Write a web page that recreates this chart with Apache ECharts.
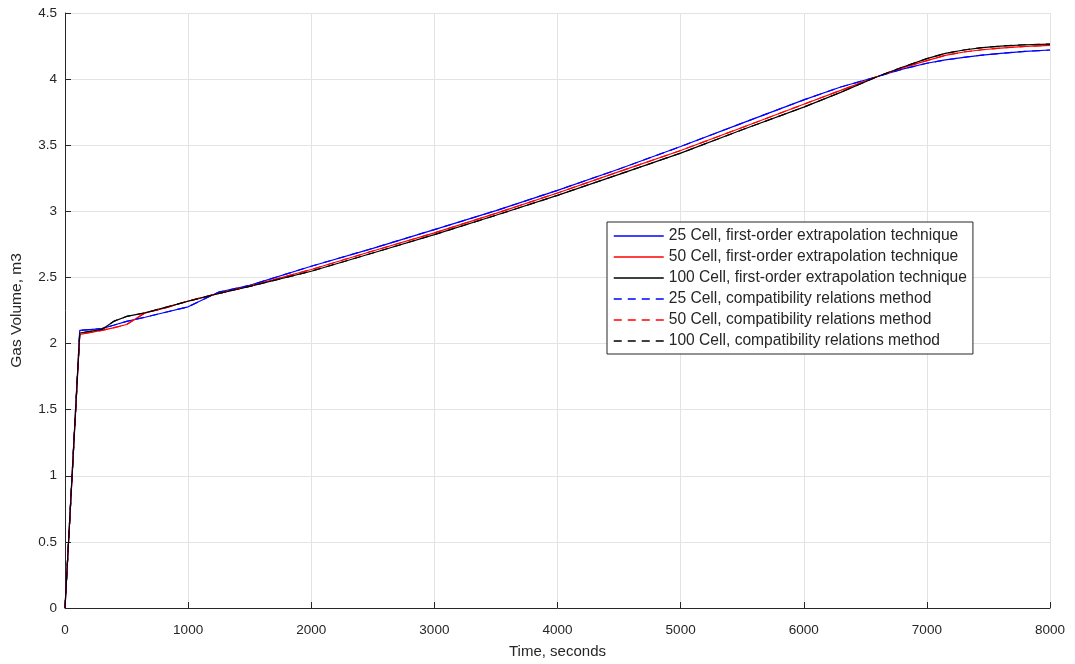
<!DOCTYPE html>
<html>
<head>
<meta charset="utf-8">
<script src="https://cdn.jsdelivr.net/npm/echarts@6/dist/echarts.min.js"></script>
<style>html,body{margin:0;padding:0;background:#fff}#c{width:1075px;height:664px}</style>
</head>
<body>
<div id="c"></div>
<script>
const time = [0,120,300,400,500,650,800,1000,1250,1500,2000,2500,3000,3500,4000,4500,5000,5500,6000,6300,6600,6800,7000,7150,7300,7450,7600,7800,8000];
const cell25First = [0,2.10,2.113,2.14,2.168,2.199,2.233,2.278,2.39,2.44,2.585,2.72,2.862,3.005,3.159,3.32,3.49,3.667,3.843,3.94,4.02,4.075,4.12,4.145,4.165,4.182,4.195,4.21,4.22];
const cell50First = [0,2.07,2.10,2.12,2.144,2.232,2.265,2.322,2.38,2.434,2.56,2.70,2.837,2.985,3.139,3.30,3.46,3.634,3.81,3.915,4.02,4.085,4.14,4.18,4.205,4.222,4.235,4.247,4.255];
const cell100First = [0,2.08,2.107,2.17,2.205,2.232,2.27,2.32,2.38,2.432,2.547,2.685,2.824,2.97,3.121,3.28,3.44,3.617,3.788,3.90,4.02,4.09,4.155,4.195,4.22,4.238,4.25,4.26,4.265];
// compatibility relations method curves coincide with the above at this resolution
const cell25Compat = cell25First.slice();
const cell50Compat = cell50First.slice();
const cell100Compat = cell100First.slice();
const xTicks = [0,1000,2000,3000,4000,5000,6000,7000,8000];
const yTicks = [0,0.5,1,1.5,2,2.5,3,3.5,4,4.5];

const names = [
  '25 Cell, first-order extrapolation technique',
  '50 Cell, first-order extrapolation technique',
  '100 Cell, first-order extrapolation technique',
  '25 Cell, compatibility relations method',
  '50 Cell, compatibility relations method',
  '100 Cell, compatibility relations method'
];
const arrays = [cell25First, cell50First, cell100First, cell25Compat, cell50Compat, cell100Compat];
const colors = ['#0000ff','#ff0000','#000000','#0000ff','#ff0000','#000000'];
const dashed = [false,false,false,true,true,true];

const font = '"Liberation Sans", Arial, Helvetica, sans-serif';
const txt = '#262626';

const series = arrays.map((arr, i) => ({
  name: names[i],
  type: 'line',
  data: time.map((t, j) => [t, arr[j]]),
  showSymbol: false,
  symbol: 'none',
  animation: false,
  color: colors[i],
  lineStyle: { color: colors[i], width: 1.2, type: dashed[i] ? [8, 6] : 'solid' },
  itemStyle: { color: colors[i] },
  z: dashed[i] ? 3 : 2
}));

const chart = echarts.init(document.getElementById('c'), null, { renderer: 'canvas' });
chart.setOption({
  animation: false,
  backgroundColor: '#fff',
  grid: { left: 65, right: 25, top: 13, bottom: 55, containLabel: false },
  legend: {
    show: true,
    orient: 'vertical',
    left: 607, top: 222,
    padding: [6, 6, 5, 6],
    itemWidth: 50, itemHeight: 14, itemGap: 5.0,
    backgroundColor: '#ffffff',
    borderColor: txt, borderWidth: 1,
    itemStyle: { opacity: 0 },
    textStyle: { fontFamily: font, fontSize: 15.6, color: txt },
    data: names.map((n, i) => ({
      name: n,
      lineStyle: { color: colors[i], width: 1.5, type: dashed[i] ? [8, 6] : 'solid', opacity: 1 }
    }))
  },
  xAxis: {
    type: 'value', min: 0, max: 8000, interval: 1000,
    name: 'Time, seconds', nameLocation: 'middle', nameGap: 36,
    nameTextStyle: { fontFamily: font, fontSize: 15, color: txt },
    axisLine: { show: true, onZero: false, lineStyle: { color: txt, width: 1 } },
    axisTick: { show: true, inside: true, length: 6, lineStyle: { color: txt } },
    axisLabel: { fontFamily: font, fontSize: 13.5, color: txt, margin: 15,
      formatter: v => xTicks.includes(v) ? String(v) : '' },
    splitLine: { show: true, lineStyle: { color: '#e3e3e3', width: 1 } }
  },
  yAxis: {
    type: 'value', min: 0, max: 4.5, interval: 0.5,
    name: 'Gas Volume, m3', nameLocation: 'middle', nameGap: 40,
    nameTextStyle: { fontFamily: font, fontSize: 15.5, color: txt },
    axisLine: { show: true, onZero: false, lineStyle: { color: txt, width: 1 } },
    axisTick: { show: true, inside: true, length: 6, lineStyle: { color: txt } },
    axisLabel: { fontFamily: font, fontSize: 13.5, color: txt, margin: 8,
      formatter: v => { const t = yTicks.find(y => Math.abs(y - v) < 1e-9); return t === undefined ? '' : String(t); } },
    splitLine: { show: true, lineStyle: { color: '#e3e3e3', width: 1 } }
  },
  series: series
});
</script>
</body>
</html>
